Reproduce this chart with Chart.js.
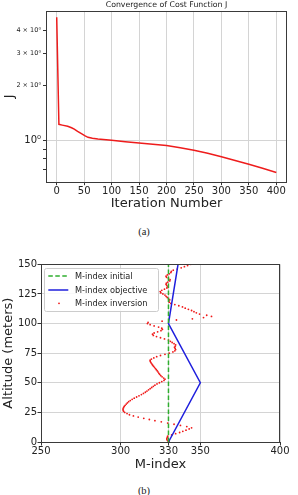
<!DOCTYPE html>
<html><head><meta charset="utf-8">
<script src="https://cdn.jsdelivr.net/npm/chart.js@4.4.1/dist/chart.umd.min.js"></script>
<style>
html,body{margin:0;padding:0;background:#fff;width:298px;height:495px;overflow:hidden}
canvas{position:absolute;left:0}
.cap{position:absolute;font-family:"Liberation Serif","DejaVu Serif",serif;font-size:10.5px;color:#222;width:40px;text-align:center;line-height:12px}
</style></head><body>
<canvas id="c1" style="top:0;width:298px;height:215px" width="298" height="215"></canvas>
<div class="cap" style="left:124px;top:225.7px">(a)</div>
<canvas id="c2" style="top:245px;width:298px;height:230px" width="298" height="230"></canvas>
<div class="cap" style="left:124px;top:484.7px">(b)</div>
<script>
// ---------- Chart (a) data ----------
const iterations = [0, 4, 10, 20, 27, 32, 38, 45, 51, 57, 65, 75, 100, 125, 150, 175, 200, 225, 250, 275, 300, 325, 350, 375, 400];
const costJ = [4.69, 1.23, 1.218, 1.2, 1.178, 1.158, 1.125, 1.094, 1.068, 1.045, 1.034, 1.024, 1.007, 0.99, 0.975, 0.96, 0.943, 0.917, 0.89, 0.857, 0.82, 0.783, 0.746, 0.71, 0.673];
const iterTicks = [0, 50, 100, 150, 200, 250, 300, 350, 400];
const jTicks = [0.7, 0.8, 0.9, 1, 2, 3, 4];
const jTickLabels = ['', '', '', '10\u2070', '2 \u00d7 10\u2070', '3 \u00d7 10\u2070', '4 \u00d7 10\u2070'];

// ---------- Chart (b) data ----------
const mTicks = [250, 300, 330, 350, 400];
const altTicks = [0, 25, 50, 75, 100, 125, 150];
const mInitial = [330, 330];
const altInitial = [0, 150];
const mObjective = [330, 350, 330, 336];
const altObjective = [0, 50, 100, 150];
const altInversion = [0,1,2,3,4,5,6,7,8,9,10,11,12,13,14,15,16,17,18,19,20,21,22,23,24,25,26,27,28,29,30,31,32,33,34,35,36,37,38,39,40,41,42,43,44,45,46,47,48,49,50,51,52,53,54,55,56,57,58,59,60,61,62,63,64,65,66,67,68,69,70,71,72,73,74,75,76,77,78,79,80,81,82,83,84,85,86,87,88,89,90,91,92,93,94,95,96,97,98,99,100,101,102,103,104,105,106,107,108,109,110,111,112,113,114,115,116,117,118,119,120,121,122,123,124,125,126,127,128,129,130,131,132,133,134,135,136,137,138,139,140,141,142,143,144,145,146,147,148,149,150];
const mInversion = [
 330.5,329.5,329,329,329.3,329.5,332,334.5,337,339,341,343,344.5,341.5,337.5,333.5,329.5,325.5,321.5,318,
 314.5,311,308,305.5,304,302.5,301.8,301.5,301.5,301.8,302.2,302.8,303.5,304.2,305,306,307.2,308.5,310,311.5,
 313,314.3,315.5,316.5,317.5,318.5,319.5,320.5,321.5,322.8,324.3,325.8,327.2,327.8,327,326,325.2,324.5,324,323.5,
 323,322.4,321.8,321.2,320.6,320,319.5,319,318.6,318.5,319.3,320.8,322.6,325,327.8,330.5,332.8,334,334.5,334.2,
 333.8,334.3,334.5,333.5,332.3,331.2,330,327.5,325,322.5,320.5,320,321,323.2,325.3,326.2,325.8,323.8,321,318.5,
 316.8,317.2,326,335,345,352,357,354,349.5,347.5,346,344.5,342.5,340.5,338.8,336.5,334,331.5,330.5,330.2,
 330.8,330,329.2,328.5,327.8,326.5,325.2,324.8,325.8,327.5,329,329.5,329,328.5,328.7,329.5,330.8,331,330,328.8,
 328.5,329.3,330.5,331.5,331.8,333,335.5,338,340,342,344];

const FONT = '"DejaVu Sans", sans-serif';
const TXT = '#222';
const GRID = '#d4d4d4';

const frame = {
  id: 'frame',
  afterDatasetsDraw(chart) {
    const {ctx, chartArea: a} = chart;
    ctx.save();
    ctx.strokeStyle = '#3a3a3a';
    ctx.lineWidth = 1;
    ctx.strokeRect(Math.round(a.left) + 0.5, Math.round(a.top) + 0.5, Math.round(a.right - a.left) - 1, Math.round(a.bottom - a.top));
    ctx.restore();
  }
};

// ---------- Chart (a) ----------
new Chart(document.getElementById('c1'), {
  type: 'line',
  data: {
    datasets: [{
      label: 'J',
      data: iterations.map((x, i) => ({x, y: costJ[i]})),
      borderColor: '#ee1c1c',
      borderWidth: 1.5,
      pointRadius: 0,
      tension: 0,
      fill: false
    }]
  },
  options: {
    responsive: false,
    animation: false,
    layout: {padding: {left: 0, right: 11, top: 0, bottom: 0}},
    plugins: {
      legend: {display: false},
      tooltip: {enabled: false},
      title: {
        display: true, fullSize: false,
        text: 'Convergence of Cost Function J',
        color: TXT, font: {family: FONT, size: 7.8, weight: 'normal'},
        padding: {top: 0.5, bottom: 1.1}
      }
    },
    scales: {
      x: {
        type: 'linear', min: -19.5, max: 419.5,
        afterBuildTicks: s => { s.ticks = iterTicks.map(v => ({value: v})); },
        afterFit: s => { s.height = 33.3; },
        grid: {color: GRID, lineWidth: 1, tickLength: 3.5, tickColor: '#333'},
        border: {display: false},
        ticks: {color: TXT, font: {family: FONT, size: 10}, padding: 0, maxRotation: 0, autoSkip: false},
        title: {display: true, text: 'Iteration Number', color: TXT, font: {family: FONT, size: 13}, padding: {top: 0, bottom: 3.2}}
      },
      y: {
        type: 'logarithmic', min: 0.614, max: 5.08,
        afterBuildTicks: s => { s.ticks = jTicks.map(v => ({value: v})); },
        afterFit: s => { s.width = 46; },
        grid: {
          color: c => (c.tick && c.tick.value === 1) ? GRID : 'rgba(0,0,0,0)',
          lineWidth: 1, tickLength: 3, tickColor: '#333'
        },
        border: {display: false},
        ticks: {
          color: TXT, autoSkip: false, padding: 2,
          font: c => ({family: FONT, size: (c.tick && c.tick.value === 1) ? 10 : 6.5}),
          callback: (v) => { const i = jTicks.indexOf(v); return i >= 0 ? jTickLabels[i] : ''; }
        },
        title: {display: true, text: 'J', color: TXT, font: {family: FONT, size: 13}, padding: {top: 2.2, bottom: 0}}
      }
    }
  },
  plugins: [frame]
});

// ---------- Chart (b) ----------
const legendBox = {
  id: 'legendBox',
  afterDraw(chart) {
    const {ctx, chartArea: a} = chart;
    const x0 = a.left + 3, y0 = a.top + 3.7, w = 114, h = 43;
    ctx.save();
    ctx.fillStyle = 'rgba(255,255,255,0.85)';
    ctx.strokeStyle = '#cccccc';
    ctx.lineWidth = 1;
    ctx.beginPath();
    ctx.roundRect(x0 + 0.5, y0 + 0.5, w, h, 2);
    ctx.fill(); ctx.stroke();
    const rows = [y0 + 8, y0 + 22, y0 + 35.3];
    ctx.font = '8.2px ' + FONT;
    ctx.textBaseline = 'middle';
    chart.data.datasets.forEach((ds, i) => {
      const y = rows[i];
      ctx.save();
      if (ds.showLine === false) {
        ctx.fillStyle = ds.pointBackgroundColor;
        ctx.beginPath(); ctx.arc(x0 + 15, y, 0.9, 0, Math.PI * 2); ctx.fill();
      } else {
        ctx.strokeStyle = ds.borderColor;
        ctx.lineWidth = ds.borderWidth;
        ctx.setLineDash(ds.borderDash || []);
        ctx.beginPath(); ctx.moveTo(x0 + 4.3, y); ctx.lineTo(x0 + 24.3, y); ctx.stroke();
      }
      ctx.restore();
      ctx.fillStyle = TXT;
      ctx.fillText(ds.label, x0 + 31, y + 0.5);
    });
    ctx.restore();
  }
};

new Chart(document.getElementById('c2'), {
  type: 'line',
  data: {
    datasets: [
      {
        label: 'M-index initial',
        data: mInitial.map((x, i) => ({x, y: altInitial[i]})),
        borderColor: '#2fae2f', borderWidth: 1.5, borderDash: [4.5, 2.5],
        pointRadius: 0, fill: false
      },
      {
        label: 'M-index objective',
        data: mObjective.map((x, i) => ({x, y: altObjective[i]})),
        borderColor: '#1f1fdd', borderWidth: 1.5,
        pointRadius: 0, fill: false
      },
      {
        label: 'M-index inversion',
        data: mInversion.map((x, i) => ({x, y: altInversion[i]})),
        showLine: false,
        pointRadius: 0.9, pointBorderWidth: 0,
        pointBackgroundColor: '#f01818', pointBorderColor: '#f01818',
        borderColor: '#f01818'
      }
    ]
  },
  options: {
    responsive: false,
    animation: false,
    layout: {padding: {left: 0, right: 18, top: 19.3, bottom: 0}},
    plugins: {legend: {display: false}, tooltip: {enabled: false}},
    scales: {
      x: {
        type: 'linear', min: 250, max: 400,
        afterBuildTicks: s => { s.ticks = mTicks.map(v => ({value: v})); },
        afterFit: s => { s.height = 33; },
        grid: {color: GRID, lineWidth: 1, tickLength: 3.5, tickColor: '#333'},
        border: {display: false},
        ticks: {color: TXT, font: {family: FONT, size: 10}, padding: 0, maxRotation: 0, autoSkip: false},
        title: {display: true, text: 'M-index', color: TXT, font: {family: FONT, size: 13}, padding: {top: 0, bottom: 2.2}}
      },
      y: {
        type: 'linear', min: 0, max: 150,
        afterBuildTicks: s => { s.ticks = altTicks.map(v => ({value: v})); },
        afterFit: s => { s.width = 41; },
        grid: {color: GRID, lineWidth: 1, tickLength: 3.5, tickColor: '#333'},
        border: {display: false},
        ticks: {color: TXT, font: {family: FONT, size: 10}, padding: 0.5, autoSkip: false},
        title: {display: true, text: 'Altitude (meters)', color: TXT, font: {family: FONT, size: 13}, padding: {top: 1.2, bottom: 0}}
      }
    }
  },
  plugins: [frame, legendBox]
});
</script>
</body></html>
